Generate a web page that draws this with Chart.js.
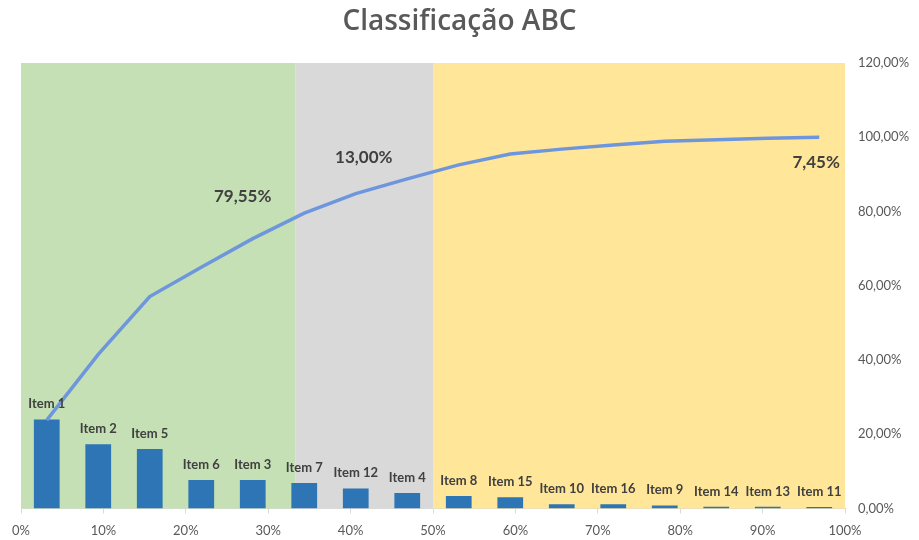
<!DOCTYPE html>
<html>
<head>
<meta charset="utf-8">
<script src="https://cdn.jsdelivr.net/npm/chart.js"></script>
<style>
  html, body { margin: 0; padding: 0; background: #fff; }
  #wrap { width: 919px; height: 540px; }
</style>
</head>
<body>
<div id="wrap"><canvas id="abc"></canvas></div>
<script>
// items sorted by share (Pareto order)
const items = ['Item 1', 'Item 2', 'Item 5', 'Item 6', 'Item 3', 'Item 7', 'Item 12', 'Item 4',
               'Item 8', 'Item 15', 'Item 10', 'Item 16', 'Item 9', 'Item 14', 'Item 13', 'Item 11'];
// share of each item (%)
const shares = [24.0, 17.3, 16.0, 7.7, 7.65, 6.9, 5.4, 4.2, 3.4, 3.05, 1.15, 1.15, 0.8, 0.45, 0.45, 0.4];
// cumulative share (%)
const cumulative = [23.8, 41.5, 57.1, 65.0, 72.7, 79.55, 84.8, 88.8, 92.55, 95.5, 96.8, 97.9, 98.9, 99.35, 99.7, 100.0];
// class zones on the 0-100% axis
const zoneBounds = [0, 33.33, 50, 100];
const zoneTotals = ['79,55%', '13,00%', '7,45%'];
const pctTicks = [0, 10, 20, 30, 40, 50, 60, 70, 80, 90, 100];
const yTicks = [0, 20, 40, 60, 80, 100, 120];

const zoneColors = ['#C5E0B4', '#D9D9D9', '#FFE699'];
// where the class totals sit, in axis units (x on 0-100 %, y on value axis)
const zoneLabelPos = [[26.9, 84.0], [41.6, 94.6], [96.5, 93.1]];

const fontFamily = 'Lato, "Open Sans", sans-serif';

const zonesPlugin = {
  id: 'zones',
  beforeDatasetsDraw(chart) {
    const { ctx, chartArea } = chart;
    const xs = chart.scales.xPct;
    ctx.save();
    for (let i = 0; i < zoneColors.length; i++) {
      const x0 = xs.getPixelForValue(zoneBounds[i]);
      const x1 = xs.getPixelForValue(zoneBounds[i + 1]);
      ctx.fillStyle = zoneColors[i];
      ctx.fillRect(x0, chartArea.top, x1 - x0, chartArea.bottom - chartArea.top);
    }
    ctx.restore();
  },
  afterDatasetsDraw(chart) {
    const { ctx } = chart;
    const xs = chart.scales.xPct;
    const ys = chart.scales.y;
    ctx.save();
    // item names above the bars
    const meta = chart.getDatasetMeta(1);
    ctx.font = 'bold 13px ' + fontFamily;
    ctx.fillStyle = '#404040';
    ctx.textAlign = 'center';
    ctx.textBaseline = 'bottom';
    meta.data.forEach((bar, i) => {
      ctx.fillText(items[i], bar.x, bar.y - 9);
    });
    // class totals
    ctx.font = 'bold 17px ' + fontFamily;
    ctx.textBaseline = 'middle';
    zoneTotals.forEach((txt, i) => {
      ctx.fillText(txt, xs.getPixelForValue(zoneLabelPos[i][0]), ys.getPixelForValue(zoneLabelPos[i][1]));
    });
    ctx.restore();
  }
};

new Chart(document.getElementById('abc'), {
  data: {
    labels: items,
    datasets: [
      {
        type: 'line',
        label: 'Acumulado',
        data: cumulative,
        borderColor: '#6E96DC',
        borderWidth: 3.5,
        pointRadius: 0,
        tension: 0,
        xAxisID: 'x',
        yAxisID: 'y',
        order: 0
      },
      {
        type: 'bar',
        label: '% Item',
        data: shares,
        backgroundColor: '#2E75B6',
        barPercentage: 0.5,
        categoryPercentage: 1,
        xAxisID: 'x',
        yAxisID: 'y',
        order: 1
      }
    ]
  },
  options: {
    responsive: true,
    maintainAspectRatio: false,
    animation: false,
    layout: { padding: 0 },
    plugins: {
      legend: { display: false },
      tooltip: { enabled: false },
      title: {
        display: true,
        text: 'Classificação ABC',
        color: '#595959',
        font: { family: '"Open Sans", sans-serif', size: 28, weight: '600' },
        padding: { top: 5, bottom: 24.4 }
      }
    },
    scales: {
      x: {
        type: 'category',
        display: false,
        offset: true
      },
      xPct: {
        type: 'linear',
        position: 'bottom',
        min: 0,
        max: 100,
        afterBuildTicks(axis) { axis.ticks = pctTicks.map(v => ({ value: v })); },
        afterFit(axis) { axis.height = 31.5; },
        grid: { drawOnChartArea: false, color: '#D9D9D9', tickLength: 5 },
        border: { color: '#D9D9D9' },
        ticks: {
          color: '#595959',
          font: { family: fontFamily, size: 13 },
          padding: 10,
          maxRotation: 0,
          callback: v => v + '%'
        }
      },
      // empty left axis, only keeps the left margin of the plot
      yLeft: {
        type: 'linear',
        position: 'left',
        min: 0,
        max: 120,
        afterFit(axis) { axis.width = 21; },
        grid: { display: false },
        border: { display: false },
        ticks: { display: false }
      },
      y: {
        type: 'linear',
        position: 'right',
        min: 0,
        max: 120,
        afterBuildTicks(axis) { axis.ticks = yTicks.map(v => ({ value: v })); },
        afterFit(axis) { axis.width = 74; },
        grid: { display: false, drawTicks: false },
        border: { display: false },
        ticks: {
          color: '#595959',
          font: { family: fontFamily, size: 13 },
          padding: 13,
          callback: v => v.toFixed(2).replace('.', ',') + '%'
        }
      }
    }
  },
  plugins: [zonesPlugin]
});
</script>
</body>
</html>
